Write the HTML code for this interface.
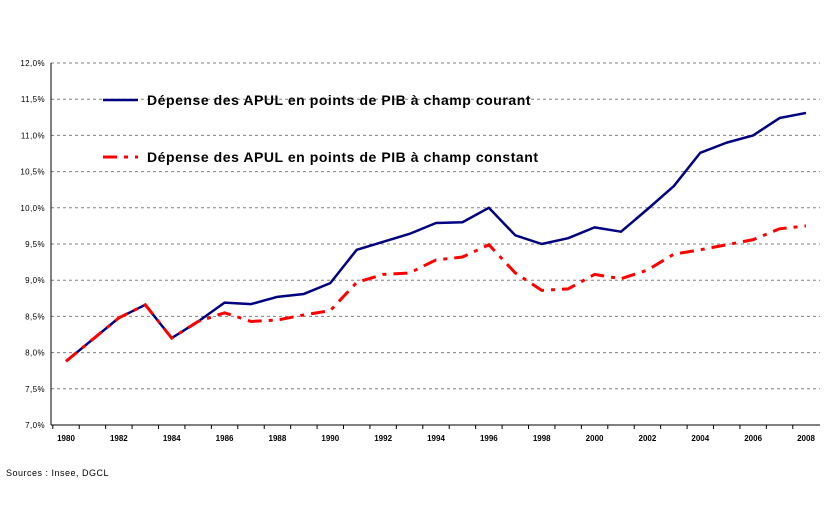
<!DOCTYPE html>
<html><head><meta charset="utf-8"><style>
body{margin:0;background:#fff;}
svg{display:block;font-family:"Liberation Sans",sans-serif;}
</style></head><body>
<svg id="chart" width="832" height="506"></svg>
<script>
const years=[1980,1981,1982,1983,1984,1985,1986,1987,1988,1989,1990,1991,1992,1993,1994,1995,1996,1997,1998,1999,2000,2001,2002,2003,2004,2005,2006,2007,2008];
const courant=[7.88,8.18,8.48,8.66,8.20,8.43,8.69,8.67,8.77,8.81,8.96,9.42,9.53,9.64,9.79,9.80,10.0,9.62,9.50,9.58,9.73,9.67,9.98,10.30,10.76,10.90,11.0,11.24,11.31];
const constant=[7.88,8.18,8.48,8.66,8.20,8.43,8.55,8.43,8.45,8.52,8.58,8.97,9.08,9.10,9.28,9.32,9.49,9.10,8.86,8.88,9.08,9.02,9.14,9.36,9.42,9.49,9.56,9.71,9.75];
const yTicks=[7.0,7.5,8.0,8.5,9.0,9.5,10.0,10.5,11.0,11.5,12.0];
const xLabels=[1980,1982,1984,1986,1988,1990,1992,1994,1996,1998,2000,2002,2004,2006,2008];
const NS='http://www.w3.org/2000/svg';
const svg=document.getElementById('chart');
const X=y=>66+(y-1980)*(806-66)/28;
const Y=v=>425-(v-7)*(425-63)/5;
function mk(t,a,p){const e=document.createElementNS(NS,t);for(const k in a)e.setAttribute(k,a[k]);(p||svg).appendChild(e);return e;}
yTicks.forEach(v=>{
  if(v>7){const g=mk('line',{x1:51,x2:820,y1:Y(v),y2:Y(v),stroke:'#808080','stroke-dasharray':'3,3'});
  
  }
  const t=mk('text',{x:45,y:Y(v)+3,'text-anchor':'end','font-size':'8','letter-spacing':'0.4',fill:'#000'});
  t.textContent=v.toFixed(1).replace('.',',')+'%';
  
  
});
const ax=mk('line',{x1:51,x2:51,y1:63,y2:425,stroke:'#000'});


const xa=mk('line',{x1:51,x2:820,y1:425,y2:425,stroke:'#000'});


years.forEach(y=>{const tk=mk('line',{x1:X(y)-13.2,x2:X(y)-13.2,y1:425,y2:429,stroke:'#000'});

});
xLabels.forEach(y=>{const t=mk('text',{x:X(y),y:441,'text-anchor':'middle','font-size':'8','font-weight':'bold'});t.textContent=y;

});
function pts(a){return a.map((v,i)=>X(years[i])+','+Y(v)).join(' ');}
const l1=mk('polyline',{points:pts(courant),fill:'none',stroke:'#000080','stroke-width':2.5,'stroke-linejoin':'round'});


const l2=mk('polyline',{points:pts(constant),fill:'none',stroke:'#ff0000','stroke-width':3,'stroke-dasharray':'14,7,4,7'});


const g1=mk('line',{x1:103,x2:138,y1:100,y2:100,stroke:'#000080','stroke-width':2.5});


const t1=mk('text',{x:147,y:105,'font-size':'14','font-weight':'bold','letter-spacing':'0.55'});t1.textContent='Dépense des APUL en points de PIB à champ courant';


const g2=mk('line',{x1:103,x2:138,y1:157,y2:157,stroke:'#ff0000','stroke-width':3,'stroke-dasharray':'14,7,4,7'});


const t2=mk('text',{x:147,y:162,'font-size':'14','font-weight':'bold','letter-spacing':'0.55'});t2.textContent='Dépense des APUL en points de PIB à champ constant';


const s=mk('text',{x:6,y:476,'font-size':'9','letter-spacing':'0.5'});s.textContent='Sources : Insee, DGCL';


</script>
</body></html>
